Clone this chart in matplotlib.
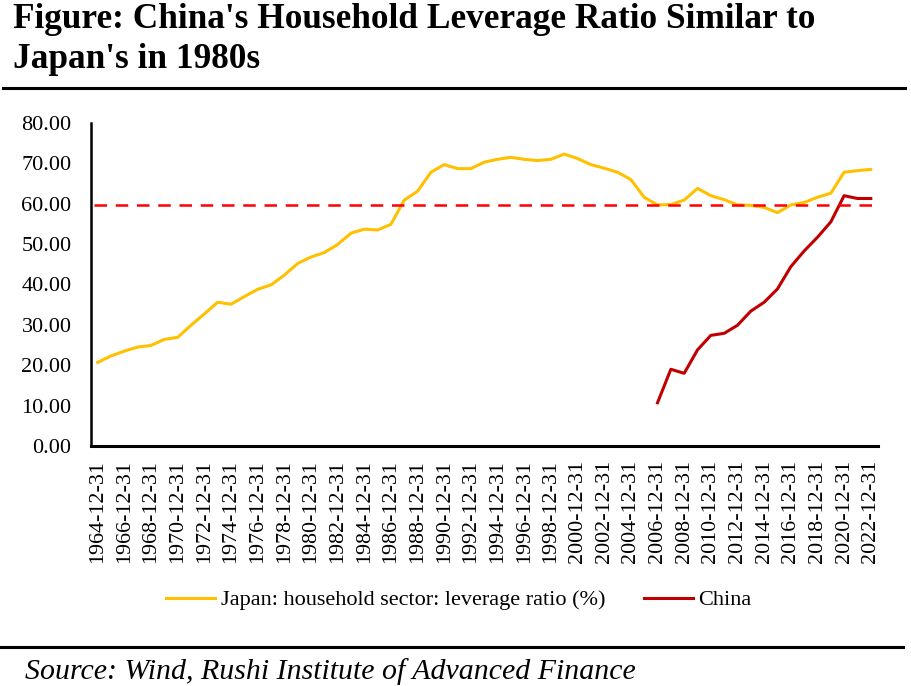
import matplotlib
matplotlib.use('Agg')
from matplotlib import pyplot as plt
from matplotlib.lines import Line2D
import numpy as np

plt.rcParams['font.family'] = ['Liberation Serif', 'DejaVu Serif']

# Data
years = list(range(1964, 2023))
japan = [20.7, 22.3, 23.5, 24.5, 24.9, 26.4, 26.9, 29.9, 32.7, 35.6,
         35.1, 37.0, 38.8, 39.9, 42.3, 45.2, 46.8, 47.9, 49.9, 52.7,
         53.7, 53.5, 54.9, 60.9, 63.1, 67.8, 69.7, 68.7, 68.7, 70.3,
         71.0, 71.5, 71.0, 70.7, 71.0, 72.3, 71.2, 69.7, 68.8, 67.8,
         66.0, 61.6, 59.7, 59.8, 60.9, 63.8, 62.0, 61.0, 59.7, 59.6,
         59.1, 57.8, 59.7, 60.3, 61.6, 62.6, 67.8, 68.2, 68.5]
china_years = list(range(2006, 2023))
china = [10.7, 19.0, 18.0, 23.8, 27.4, 27.9, 29.9, 33.4, 35.6, 38.9,
         44.4, 48.3, 51.7, 55.5, 62.0, 61.3, 61.3]
ref_level = 59.6
y_ticks = [0, 10, 20, 30, 40, 50, 60, 70, 80]

title_lines = ["Figure: China's Household Leverage Ratio Similar to",
               "Japan's in 1980s"]
source_text = "Source: Wind, Rushi Institute of Advanced Finance"

fig = plt.figure(figsize=(9.11, 6.86), dpi=100)
ax = fig.add_axes([0.0999, 0.3499, 0.864, 0.4708])

x_jp = np.arange(len(years))
x_cn = np.array([years.index(y) for y in china_years])

ax.plot(x_jp, japan, color='#FFC000', linewidth=2.2,
        label='Japan: household sector: leverage ratio (%)')
ax.plot(x_cn, china, color='#C00000', linewidth=2.2, label='China')
ax.plot([x_jp[0] - 0.3, x_jp[-1] + 0.3], [ref_level, ref_level],
        color='#FF0000', linewidth=1.8, linestyle=(0, (5, 3.5)))

ax.set_xlim(-0.5, len(years) - 0.45)
ax.set_ylim(0, 80)
ax.set_yticks(y_ticks)
ax.set_yticklabels([f'{v:.2f}' for v in y_ticks], fontsize=16)
ax.set_xticks(x_jp[::2])
ax.set_xticklabels([f'{y}-12-31' for y in years[::2]], rotation=90,
                   fontsize=15.8)
ax.tick_params(axis='y', length=0, pad=14)
ax.tick_params(axis='x', length=0, pad=10)
for side in ['top', 'right']:
    ax.spines[side].set_visible(False)
ax.spines['left'].set_linewidth(1.8)
ax.spines['bottom'].set_linewidth(2.2)

ax.legend(loc='center', bbox_to_anchor=(0.504, 1 - 600 / 686),
          bbox_transform=fig.transFigure, ncol=2, frameon=False,
          fontsize=16, handlelength=2.2, handletextpad=0.27,
          columnspacing=1.7)

# Title, rules and source
fig.text(13 / 911, 1 - 20 / 686, title_lines[0], fontsize=25.4,
         fontweight='bold', va='center', ha='left')
fig.text(13 / 911, 1 - 60 / 686, title_lines[1], fontsize=25.4,
         fontweight='bold', va='center', ha='left')
fig.add_artist(Line2D([3 / 911, 905 / 911], [1 - 88 / 686, 1 - 88 / 686],
                      color='black', linewidth=2.2))
fig.add_artist(Line2D([0, 903 / 911], [1 - 647 / 686, 1 - 647 / 686],
                      color='black', linewidth=2.2))
fig.text(25 / 911, 1 - 672 / 686, source_text, fontsize=21.5,
         style='italic', va='center', ha='left')

fig.savefig('out.png', dpi=100)
